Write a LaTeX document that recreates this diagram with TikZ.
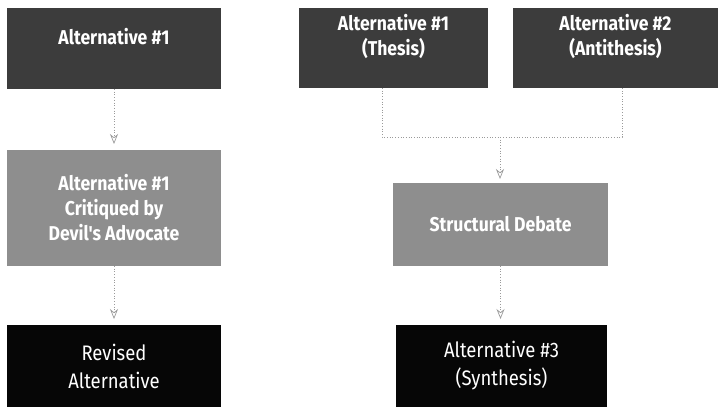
\documentclass[tikz,border=0pt]{standalone}
\usepackage{fontspec}
\setmainfont{Fira Sans}[FakeStretch=0.88]
\newfontfamily\boxfont{Fira Sans}[FakeStretch=0.88]
\usetikzlibrary{arrows.meta}
\definecolor{darkbox}{HTML}{3C3C3C}
\definecolor{midbox}{HTML}{8E8E8E}
\definecolor{blackbox}{HTML}{060606}
\definecolor{linegrey}{HTML}{9A9A9A}
\tikzset{
  x=1pt, y=-1pt,
  boxnode/.style={rectangle, inner sep=0pt, outer sep=0pt, align=center, text=white,
    font=\boxfont\fontsize{20}{25}\selectfont},
  topbox/.style={boxnode, fill=darkbox},
  toptext/.style={align=center, text=white, inner sep=0pt, yshift=12pt,
    font=\boxfont\bfseries\fontsize{20}{25}\selectfont},
  midbox/.style={boxnode, fill=midbox, font=\boxfont\bfseries\fontsize{20}{25}\selectfont},
  botbox/.style={boxnode, fill=blackbox, font=\boxfont\fontsize{21}{28}\selectfont},
  conn/.style={draw=linegrey, dotted, line width=0.7pt},
  arr/.style={conn, -{Stealth[length=10pt,width=8pt,open]}},
}
\begin{document}
\begin{tikzpicture}
\useasboundingbox (0,0) rectangle (718,407);
% left column
\node[topbox, minimum width=214pt, minimum height=81pt,
  label={[toptext]center:Alternative \#1}] (l1) at (114,48.5) {};
\node[midbox, minimum width=214pt, minimum height=116pt] (l2) at (114,208) {Alternative \#1\\Critiqued by\\Devil's Advocate};
\node[botbox, minimum width=214pt, minimum height=82pt] (l3) at (114,366) {Revised\\Alternative};
% right column
\node[topbox, minimum width=189pt, minimum height=80pt,
  label={[toptext]center:Alternative \#1\\(Thesis)}] (t1) at (393.5,48) {};
\node[topbox, minimum width=205pt, minimum height=80pt,
  label={[toptext]center:Alternative \#2\\(Antithesis)}] (t2) at (615.5,48) {};
\node[midbox, minimum width=215pt, minimum height=83pt] (sd) at (500.5,224.5) {Structural Debate};
\node[botbox, minimum width=211pt, minimum height=82pt] (a3) at (501.5,366) {Alternative \#3\\(Synthesis)};
% connectors
\draw[arr] (l1.south) -- ([yshift=6pt]l2.north);
\draw[arr] (l2.south) -- ([yshift=6pt]l3.north);
\coordinate (bl) at (382,137);
\coordinate (br) at (622,137);
\coordinate (bm) at (500,137);
\draw[conn] (bl |- t1.south) -- (bl) -- (br) -- (br |- t2.south);
\draw[arr] (bm) -- ([yshift=4pt]bm |- sd.north);
\draw[arr] (sd.south) -- ([yshift=6pt]sd.south |- a3.north);
\end{tikzpicture}
\end{document}
